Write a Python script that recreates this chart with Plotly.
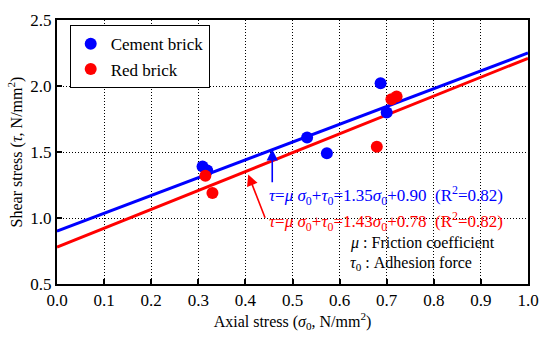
import plotly.graph_objects as go

# Data
cement_x = [0.309, 0.319, 0.531, 0.573, 0.687, 0.700]
cement_y = [1.39, 1.36, 1.61, 1.49, 2.02, 1.80]
red_x = [0.315, 0.330, 0.679, 0.710, 0.721]
red_y = [1.32, 1.19, 1.54, 1.90, 1.92]

series_names = ["Cement brick", "Red brick"]
slopes = [1.35, 1.43]
intercepts = [0.90, 0.78]
r2 = [0.82, 0.82]
fit_x = [0.0, 1.0]

x_ticks = [0.0, 0.1, 0.2, 0.3, 0.4, 0.5, 0.6, 0.7, 0.8, 0.9, 1.0]
y_ticks = [0.5, 1.0, 1.5, 2.0, 2.5]

FONT = "Liberation Serif"
BLUE = "#0000ff"
RED = "#ff0000"

fig = go.Figure()
colors = [BLUE, RED]
for i in range(2):
    fig.add_trace(go.Scatter(
        x=fit_x, y=[intercepts[i] + slopes[i] * v for v in fit_x],
        mode="lines", line=dict(color=colors[i], width=3),
        showlegend=False, hoverinfo="skip"))

fig.add_trace(go.Scatter(x=cement_x, y=cement_y, mode="markers", name=series_names[0],
                         marker=dict(color=BLUE, size=12)))
fig.add_trace(go.Scatter(x=red_x, y=red_y, mode="markers", name=series_names[1],
                         marker=dict(color=RED, size=12)))

def eq_text(i):
    return ("<i>τ</i>=<i>μ σ</i><sub>0</sub>+<i>τ</i><sub>0</sub>=%.2f<i>σ</i><sub>0</sub>+%.2f"
            "\u00a0\u00a0(R<sup>2</sup>=%.2f)" % (slopes[i], intercepts[i], r2[i]))

annots = [
    dict(x=0.457, y=1.52, ax=0.457, ay=1.26, xref="x", yref="y", axref="x", ayref="y",
         showarrow=True, arrowhead=2, arrowsize=1.4, arrowwidth=1.6, arrowcolor=BLUE, text=""),
    dict(x=0.406, y=1.33, ax=0.443, ay=0.99, xref="x", yref="y", axref="x", ayref="y",
         showarrow=True, arrowhead=2, arrowsize=1.4, arrowwidth=1.6, arrowcolor=RED, text=""),
    dict(x=0.446, y=1.17, xref="x", yref="y", text=eq_text(0), showarrow=False,
         xanchor="left", yanchor="middle", font=dict(family=FONT, size=17, color=BLUE)),
    dict(x=0.446, y=0.975, xref="x", yref="y", text=eq_text(1), showarrow=False,
         xanchor="left", yanchor="middle", font=dict(family=FONT, size=17, color=RED)),
    dict(x=0.618, y=0.81, xref="x", yref="y", text="<i>μ</i> : Friction coefficient",
         showarrow=False, xanchor="left", yanchor="middle",
         font=dict(family=FONT, size=16, color="black")),
    dict(x=0.618, y=0.655, xref="x", yref="y", text="<i>τ</i><sub>0</sub> : Adhesion force",
         showarrow=False, xanchor="left", yanchor="middle",
         font=dict(family=FONT, size=16, color="black")),
]

fig.update_layout(
    width=550, height=339,
    margin=dict(l=57, r=20, t=11, b=54),
    paper_bgcolor="white", plot_bgcolor="white",
    font=dict(family=FONT, size=16, color="black"),
    annotations=annots,
    legend=dict(x=0.027, y=0.98, xanchor="left", yanchor="top",
                bgcolor="white", bordercolor="black", borderwidth=1,
                font=dict(family=FONT, size=17), itemsizing="constant",
                tracegroupgap=0),
)
fig.update_xaxes(
    range=[0, 1], tickvals=x_ticks, ticktext=["%.1f" % v for v in x_ticks],
    showgrid=True, gridcolor="black", griddash="1px,2px", gridwidth=1,
    showline=True, linecolor="black", linewidth=2, mirror=True,
    ticks="inside", ticklen=5, tickwidth=2, tickcolor="black", zeroline=False,
    title=dict(text="Axial stress (<i>σ</i><sub>0</sub>, N/mm<sup>2</sup>)",
               font=dict(family=FONT, size=16), standoff=6),
    tickfont=dict(family=FONT, size=17),
)
fig.update_yaxes(
    range=[0.5, 2.5], tickvals=y_ticks, ticktext=["%.1f" % v for v in y_ticks],
    showgrid=True, gridcolor="black", griddash="1px,2px", gridwidth=1,
    showline=True, linecolor="black", linewidth=2, mirror=True,
    ticks="inside", ticklen=5, tickwidth=2, tickcolor="black", zeroline=False,
    title=dict(text="Shear stress (<i>τ</i>, N/mm<sup>2</sup>)",
               font=dict(family=FONT, size=16), standoff=4),
    tickfont=dict(family=FONT, size=17),
)

fig.write_html("out.html", config={"displayModeBar": False},
               post_script="document.body.style.margin='0';")
